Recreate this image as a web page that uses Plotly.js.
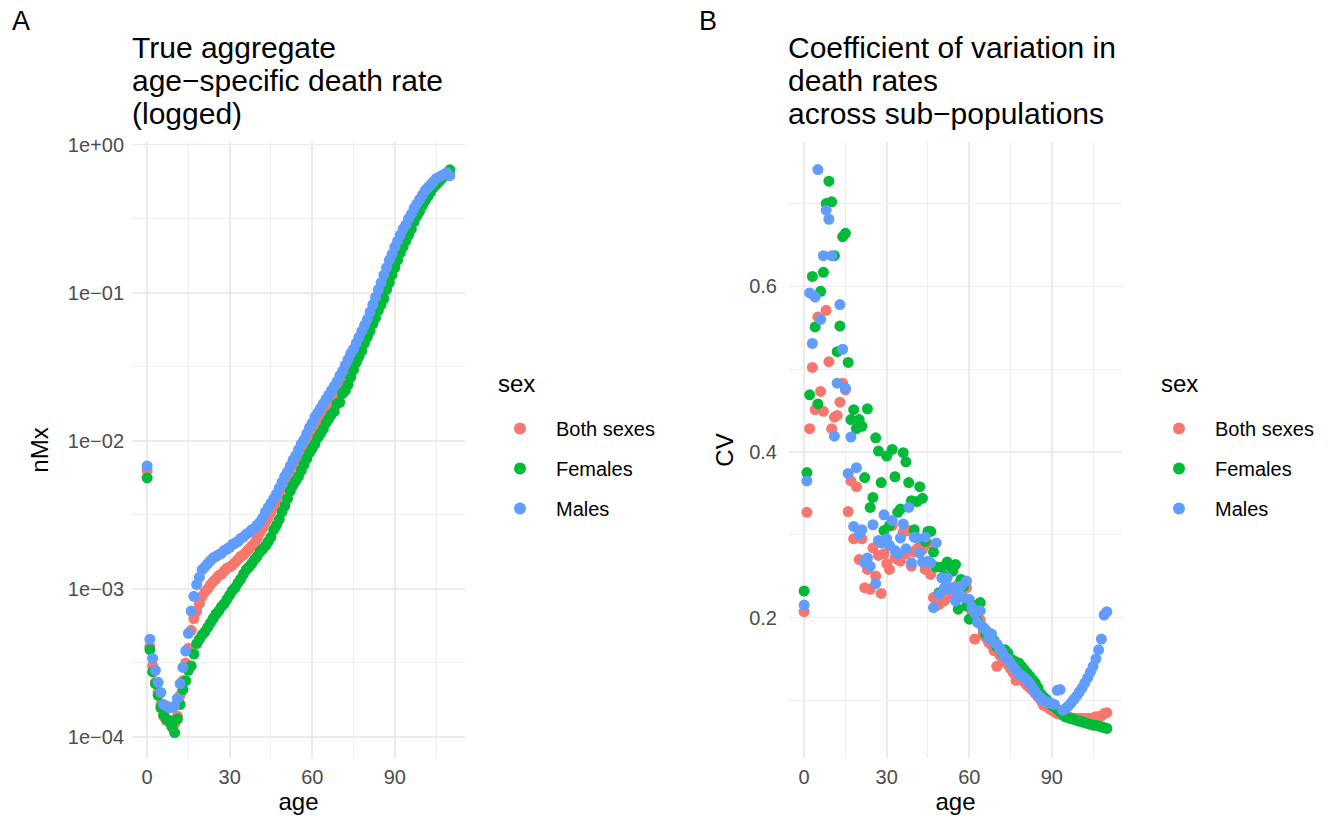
<!DOCTYPE html>
<html>
<head>
<meta charset="utf-8">
<script src="https://cdn.plot.ly/plotly-3.0.1.min.js"></script>
<style>html,body{margin:0;padding:0;background:#fff;}#chart{width:1335px;height:827px;}</style>
</head>
<body>
<div id="chart"></div>
<script>
// ---------------- DATA ----------------
const ages = [0,1,2,3,4,5,6,7,8,9,10,11,12,13,14,15,16,17,18,19,20,21,22,23,24,25,26,27,28,29,30,31,32,33,34,35,36,37,38,39,40,41,42,43,44,45,46,47,48,49,50,51,52,53,54,55,56,57,58,59,60,61,62,63,64,65,66,67,68,69,70,71,72,73,74,75,76,77,78,79,80,81,82,83,84,85,86,87,88,89,90,91,92,93,94,95,96,97,98,99,100,101,102,103,104,105,106,107,108,109,110];
const sexes = ["Both sexes", "Females", "Males"];

// Panel A: true aggregate age-specific death rate nMx
const nMxBoth = [6.31e-3,4.07e-4,3.02e-4,2.34e-4,2.00e-4,1.66e-4,1.38e-4,1.29e-4,1.26e-4,1.23e-4,
 1.23e-4,1.38e-4,1.91e-4,2.40e-4,3.16e-4,3.98e-4,5.25e-4,6.31e-4,7.08e-4,7.94e-4,
 8.91e-4,9.55e-4,1.00e-3,1.07e-3,1.12e-3,1.17e-3,1.23e-3,1.26e-3,1.32e-3,1.38e-3,
 1.41e-3,1.45e-3,1.51e-3,1.58e-3,1.66e-3,1.70e-3,1.78e-3,1.86e-3,1.95e-3,2.04e-3,
 2.19e-3,2.40e-3,2.57e-3,2.82e-3,3.02e-3,3.31e-3,3.63e-3,3.98e-3,4.37e-3,4.79e-3,
 5.25e-3,5.75e-3,6.31e-3,6.92e-3,7.41e-3,7.94e-3,8.51e-3,9.12e-3,1.00e-2,1.07e-2,
 1.15e-2,1.23e-2,1.35e-2,1.45e-2,1.55e-2,1.66e-2,1.78e-2,1.91e-2,2.04e-2,2.19e-2,
 2.40e-2,2.63e-2,2.82e-2,3.09e-2,3.39e-2,3.72e-2,4.07e-2,4.47e-2,4.90e-2,5.37e-2,
 5.89e-2,6.46e-2,7.24e-2,8.13e-2,9.12e-2,0.102,0.112,0.126,0.141,0.158,
 0.174,0.195,0.214,0.234,0.257,0.282,0.309,0.331,0.363,0.389,
 0.417,0.447,0.479,0.501,0.537,0.562,0.575,0.603,0.617,0.646,
 0.646];
const nMxFemales = [5.62e-3,3.89e-4,2.75e-4,2.29e-4,1.91e-4,1.58e-4,1.41e-4,1.32e-4,1.29e-4,1.17e-4,
 1.07e-4,1.32e-4,1.66e-4,2.09e-4,2.40e-4,2.82e-4,3.02e-4,3.63e-4,4.27e-4,4.57e-4,
 4.90e-4,5.13e-4,5.50e-4,5.89e-4,6.31e-4,6.76e-4,7.08e-4,7.59e-4,7.94e-4,8.51e-4,
 9.12e-4,9.77e-4,1.02e-3,1.10e-3,1.17e-3,1.26e-3,1.35e-3,1.41e-3,1.48e-3,1.58e-3,
 1.66e-3,1.78e-3,1.86e-3,1.95e-3,2.09e-3,2.24e-3,2.51e-3,2.69e-3,2.95e-3,3.31e-3,
 3.63e-3,4.07e-3,4.57e-3,5.01e-3,5.37e-3,5.75e-3,6.31e-3,6.92e-3,7.59e-3,8.32e-3,
 8.91e-3,9.55e-3,1.05e-2,1.12e-2,1.20e-2,1.32e-2,1.41e-2,1.51e-2,1.58e-2,1.78e-2,
 1.82e-2,2.09e-2,2.19e-2,2.40e-2,2.69e-2,3.02e-2,3.39e-2,3.72e-2,4.07e-2,4.57e-2,
 5.01e-2,5.50e-2,6.17e-2,6.76e-2,7.59e-2,8.32e-2,9.12e-2,0.105,0.117,0.132,
 0.148,0.166,0.186,0.204,0.224,0.245,0.269,0.302,0.331,0.355,
 0.389,0.417,0.447,0.479,0.513,0.537,0.562,0.589,0.617,0.646,
 0.676];
const nMxMales = [6.76e-3,4.57e-4,3.39e-4,2.82e-4,2.34e-4,2.00e-4,1.66e-4,1.62e-4,1.58e-4,1.58e-4,
 1.62e-4,1.82e-4,2.29e-4,2.95e-4,3.80e-4,5.01e-4,7.08e-4,8.91e-4,1.07e-3,1.20e-3,
 1.35e-3,1.41e-3,1.48e-3,1.55e-3,1.62e-3,1.66e-3,1.70e-3,1.74e-3,1.82e-3,1.86e-3,
 1.91e-3,2.00e-3,2.04e-3,2.09e-3,2.19e-3,2.24e-3,2.34e-3,2.40e-3,2.51e-3,2.57e-3,
 2.69e-3,2.82e-3,3.02e-3,3.31e-3,3.55e-3,3.80e-3,4.07e-3,4.37e-3,4.79e-3,5.25e-3,
 5.75e-3,6.17e-3,6.76e-3,7.41e-3,7.94e-3,8.71e-3,9.55e-3,1.02e-2,1.12e-2,1.23e-2,
 1.32e-2,1.45e-2,1.55e-2,1.66e-2,1.78e-2,1.91e-2,2.04e-2,2.19e-2,2.34e-2,2.51e-2,
 2.75e-2,2.95e-2,3.24e-2,3.55e-2,3.89e-2,4.17e-2,4.57e-2,5.01e-2,5.50e-2,6.03e-2,
 6.61e-2,7.41e-2,8.32e-2,9.33e-2,0.105,0.117,0.132,0.148,0.166,0.182,
 0.204,0.224,0.245,0.269,0.288,0.316,0.339,0.372,0.398,0.427,
 0.457,0.490,0.513,0.537,0.562,0.589,0.603,0.617,0.631,0.646,
 0.617];

// Panel B: coefficient of variation in death rates across sub-populations
const cvBoth = [0.207,0.327,0.428,0.502,0.451,0.563,0.473,0.449,0.571,0.509,
 0.428,0.442,0.444,0.460,0.483,0.475,0.328,0.365,0.295,0.358,
 0.270,0.295,0.236,0.258,0.234,0.284,0.250,0.275,0.229,0.277,
 0.265,0.258,0.311,0.272,0.270,0.268,0.303,0.277,0.305,0.262,
 0.279,0.283,0.285,0.282,0.258,0.289,0.252,0.224,0.214,0.216,
 0.226,0.220,0.228,0.236,0.230,0.225,0.240,0.244,0.239,0.236,
 0.215,0.206,0.174,0.200,0.197,0.180,0.176,0.170,0.167,0.160,
 0.141,0.155,0.150,0.146,0.143,0.138,0.133,0.124,0.128,0.125,
 0.122,0.118,0.115,0.112,0.108,0.104,0.100,0.094,0.093,0.090,
 0.088,0.086,0.084,0.083,0.082,0.080,0.080,0.079,0.078,0.078,
 0.078,0.078,0.078,0.078,0.078,0.079,0.080,0.080,0.081,0.084,
 0.085];
const cvFemales = [0.232,0.375,0.469,0.612,0.551,0.458,0.594,0.617,0.700,0.727,
 0.702,0.637,0.521,0.552,0.660,0.664,0.508,0.439,0.451,0.428,
 0.439,0.431,0.369,0.452,0.333,0.345,0.417,0.401,0.363,0.305,
 0.395,0.311,0.403,0.370,0.327,0.331,0.399,0.388,0.363,0.341,
 0.306,0.340,0.358,0.344,0.292,0.304,0.304,0.279,0.261,0.230,
 0.261,0.250,0.267,0.262,0.256,0.264,0.210,0.246,0.238,0.214,
 0.198,0.216,0.213,0.196,0.218,0.188,0.180,0.176,0.180,0.172,
 0.165,0.163,0.157,0.161,0.157,0.150,0.148,0.146,0.145,0.141,
 0.137,0.133,0.129,0.125,0.121,0.115,0.108,0.104,0.101,0.097,
 0.094,0.092,0.089,0.086,0.083,0.080,0.079,0.078,0.077,0.076,
 0.075,0.074,0.073,0.072,0.071,0.070,0.070,0.069,0.068,0.067,
 0.066];
const cvMales = [0.215,0.365,0.592,0.531,0.587,0.741,0.560,0.637,0.692,0.681,
 0.637,0.419,0.483,0.578,0.524,0.477,0.374,0.418,0.310,0.381,
 0.300,0.306,0.266,0.272,0.262,0.312,0.241,0.293,0.290,0.324,
 0.295,0.287,0.317,0.281,0.277,0.296,0.313,0.283,0.333,0.266,
 0.297,0.296,0.278,0.267,0.297,0.268,0.266,0.212,0.290,0.228,
 0.248,0.236,0.248,0.234,0.236,0.220,0.226,0.238,0.224,0.244,
 0.222,0.212,0.205,0.194,0.208,0.188,0.185,0.176,0.180,0.170,
 0.168,0.163,0.158,0.152,0.150,0.145,0.140,0.136,0.132,0.130,
 0.127,0.124,0.120,0.115,0.110,0.106,0.103,0.100,0.098,0.097,
 0.096,0.095,0.112,0.113,0.088,0.090,0.093,0.097,0.101,0.105,
 0.110,0.115,0.121,0.127,0.134,0.141,0.150,0.161,0.174,0.203,
 0.207];

const xTickVals = [0, 30, 60, 90];
const logTickVals = [1, 0.1, 0.01, 0.001, 0.0001];
const logTickText = ["1e+00", "1e\u221201", "1e\u221202", "1e\u221203", "1e\u221204"];
const cvTickVals = [0.2, 0.4, 0.6];
const cvTickText = ["0.2", "0.4", "0.6"];

// ---------------- STYLE / LAYOUT ----------------
const W = 1335, H = 827;
const fx = p => p / W;
const fy = p => 1 - p / H;
const colors = ["#F8766D", "#00BA38", "#619CFF"];
const FONT = "Liberation Sans, Arial, Helvetica, sans-serif";
const GRID = "#EBEBEB";

const panelA = [nMxBoth, nMxFemales, nMxMales];
const panelB = [cvBoth, cvFemales, cvMales];
const traces = [];
sexes.forEach((s, i) => {
  traces.push({
    type: "scatter", mode: "markers", x: ages, y: panelA[i], name: s,
    xaxis: "x", yaxis: "y", legend: "legend", legendgroup: "a" + i,
    marker: {color: colors[i], size: 11}
  });
});
sexes.forEach((s, i) => {
  traces.push({
    type: "scatter", mode: "markers", x: ages, y: panelB[i], name: s,
    xaxis: "x2", yaxis: "y2", legend: "legend2", legendgroup: "b" + i,
    marker: {color: colors[i], size: 11}
  });
});

function xAxis(dom, anchor) {
  return {
    domain: dom, anchor: anchor, range: [-5.5, 115.5],
    tickmode: "array", tickvals: xTickVals, ticks: "", showline: false, zeroline: false,
    showgrid: true, gridcolor: GRID, gridwidth: 1.6,
    minor: {tickmode: "array", tickvals: [15, 45, 75, 105], showgrid: true, gridcolor: GRID, gridwidth: 0.8, ticks: ""},
    tickfont: {family: FONT, size: 20, color: "#4D4D4D"},
    ticklabelstandoff: 5,
    title: {text: "age", font: {family: FONT, size: 24, color: "#000"}, standoff: 2}
  };
}
const yDom = [fy(758), fy(142)];

const legendCommon = {
  font: {family: FONT, size: 20, color: "#000"},
  bgcolor: "rgba(0,0,0,0)", borderwidth: 0,
  xanchor: "left", yanchor: "top", itemwidth: 62,
  tracegroupgap: 11, traceorder: "grouped", itemsizing: "constant"
};

const ann = [];
function txt(t, x, y, size, xanchor) {
  ann.push({text: t, x: fx(x), y: fy(y), xref: "paper", yref: "paper",
    xanchor: xanchor || "left", yanchor: "middle", showarrow: false,
    font: {family: FONT, size: size, color: "#000"}});
}
txt("A", 10, 21, 27);
txt("B", 697, 21, 27);
txt("True aggregate", 130, 47, 30);
txt("age\u2212specific death rate", 130, 80, 30);
txt("(logged)", 130, 113, 30);
txt("Coefficient of variation in", 786, 47, 30);
txt("death rates", 786, 80, 30);
txt("across sub\u2212populations", 786, 113, 30);
// legend titles
txt("sex", 496, 383, 24);
txt("sex", 1159, 383, 24);

const layout = {
  width: W, height: H, margin: {l: 0, r: 0, t: 0, b: 0},
  paper_bgcolor: "#fff", plot_bgcolor: "#fff",
  font: {family: FONT},
  showlegend: true,
  xaxis: xAxis([fx(132), fx(465)], "y"),
  yaxis: {
    domain: yDom, anchor: "x", type: "log", range: [-4.142, 0.018],
    tickmode: "array", tickvals: logTickVals, ticktext: logTickText,
    ticks: "", showline: false, zeroline: false,
    showgrid: true, gridcolor: GRID, gridwidth: 1.6,
    minor: {tickmode: "array", tickvals: [0.3162, 0.03162, 0.003162, 0.0003162], showgrid: true, gridcolor: GRID, gridwidth: 0.8, ticks: ""},
    tickfont: {family: FONT, size: 20, color: "#4D4D4D"},
    ticklabelstandoff: 7,
    title: {text: "nMx", font: {family: FONT, size: 24, color: "#000"}, standoff: 12}
  },
  xaxis2: xAxis([fx(789), fx(1122)], "y2"),
  yaxis2: {
    domain: yDom, anchor: "x2", range: [0.0303, 0.7743],
    tickmode: "array", tickvals: cvTickVals, ticktext: cvTickText,
    ticks: "", showline: false, zeroline: false,
    showgrid: true, gridcolor: GRID, gridwidth: 1.6,
    minor: {tickmode: "array", tickvals: [0.1, 0.3, 0.5, 0.7], showgrid: true, gridcolor: GRID, gridwidth: 0.8, ticks: ""},
    tickfont: {family: FONT, size: 20, color: "#4D4D4D"},
    ticklabelstandoff: 11,
    title: {text: "CV", font: {family: FONT, size: 24, color: "#000"}, standoff: 8}
  },
  legend: Object.assign({}, legendCommon, {x: fx(484), y: fy(409)}),
  legend2: Object.assign({}, legendCommon, {x: fx(1143), y: fy(409)}),
  annotations: ann
};

Plotly.newPlot("chart", traces, layout, {staticPlot: true, displayModeBar: false});
</script>
</body>
</html>
